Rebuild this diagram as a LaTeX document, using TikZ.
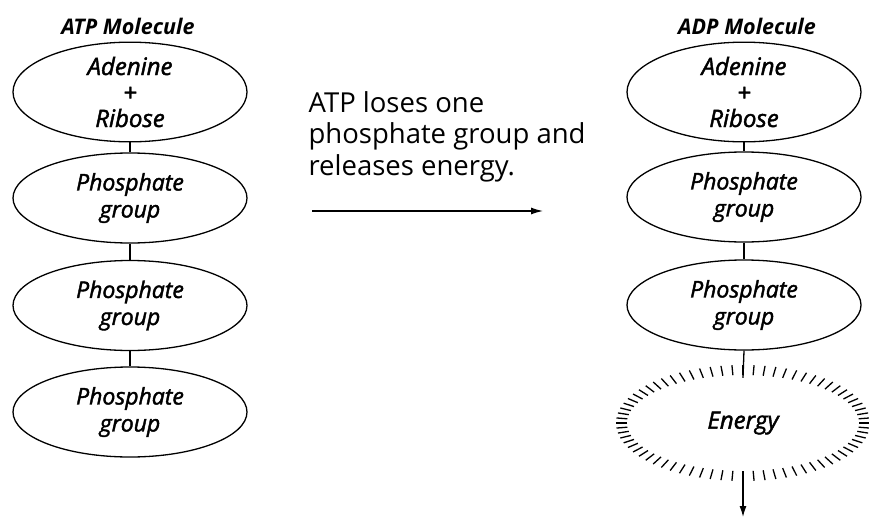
\documentclass[tikz,border=0pt]{standalone}
\usepackage{fontspec}
\setmainfont{Open Sans}
\newfontfamily\labelfont{Open Sans}[ItalicFeatures={FakeBold=1.8}]
\usetikzlibrary{shapes.geometric,arrows.meta,calc}
\begin{document}
\begin{tikzpicture}[x=1pt,y=-1pt,
  part/.style={draw,line width=1.3pt,ellipse,minimum width=234pt,minimum height=90pt,
    inner sep=0pt,align=center,font=\labelfont\fontsize{23}{27}\selectfont\itshape},
  stack/.style={font=\labelfont\fontsize{24}{26}\selectfont\itshape},
  title/.style={font=\fontsize{21.5}{24}\selectfont\bfseries\itshape},
  bond/.style={line width=1.3pt},
  caption/.style={align=left,anchor=north west,font=\fontsize{27.5}{31.5}\selectfont}]
\useasboundingbox (0,0) rectangle (869,519);

% ATP column
\node[title] (atpt) at (128,26) {ATP Molecule};
\node[part,stack] (a1) at (130,92) {Adenine\\+\\Ribose};
\node[part] (a2) at (130,198) {Phosphate\\group};
\node[part] (a3) at (130,305.5) {Phosphate\\group};
\node[part] (a4) at (130,412) {Phosphate\\group};
\draw[bond] (a1) -- (a2);
\draw[bond] (a2) -- (a3);
\draw[bond] (a3) -- (a4);

% reaction text and arrow
\node[caption] (txt) at (305,88) {ATP loses one\\phosphate group and\\releases energy.};
\coordinate (arrS) at (312,211);
\coordinate (arrE) at (543,211);
\draw[line width=1.2pt,-{Latex[length=12pt,width=7pt]}] (arrS) -- (arrE);

% ADP column
\node[title] (adpt) at (747,26) {ADP Molecule};
\node[part,stack] (d1) at (744,92) {Adenine\\+\\Ribose};
\node[part] (d2) at (744,197) {Phosphate\\group};
\node[part] (d3) at (744,305) {Phosphate\\group};
\draw[bond] (d1) -- (d2);
\draw[bond] (d2) -- (d3);

% released energy: radial ticks around an ellipse
\node[ellipse,minimum width=232pt,minimum height=96pt,inner sep=0pt,
  font=\labelfont\fontsize{24}{26}\selectfont\itshape] (en) at (743,423) {Energy};
\foreach \t in {0,5,...,355}{
  \draw[line width=1.3pt] ($(en.center)+({116*cos(\t)},{48*sin(\t)})$) --
    ($(en.center)+({127*cos(\t)},{58*sin(\t)})$);
}
\draw[bond] (d3.south) -- ($(en.north)+(0,3)$);
\coordinate (eout) at (743,517);
\draw[line width=1.3pt,-{Latex[length=11pt,width=7pt]}] ($(en.south)+(0,10)$) -- (eout);
\end{tikzpicture}
\end{document}
